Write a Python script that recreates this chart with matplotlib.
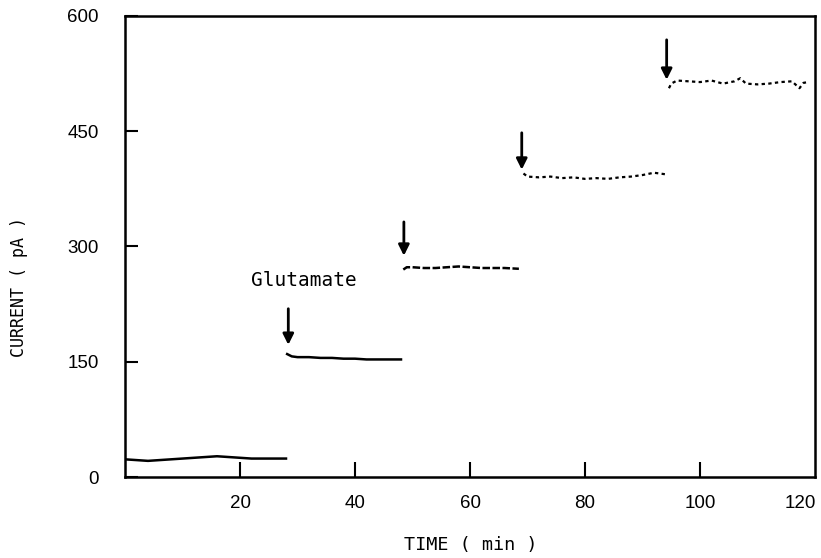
import numpy as np
import matplotlib
matplotlib.use("Agg")
import matplotlib.pyplot as plt

# current trace, one piece per glutamate addition (min, pA)
t_base = [0, 2, 4, 6, 8, 10, 12, 14, 16, 18, 20, 22, 24, 26, 28]
i_base = [23, 22, 21, 22, 23, 24, 25, 26, 27, 26, 25, 24, 24, 24, 24]

t_step1 = [28.2, 29, 30, 32, 34, 36, 38, 40, 42, 44, 46, 48]
i_step1 = [160, 157, 156, 156, 155, 155, 154, 154, 153, 153, 153, 153]

t_step2 = [48.4, 49, 50, 52, 54, 56, 58, 60, 62, 64, 66, 68.5]
i_step2 = [270, 273, 273, 272, 272, 273, 274, 273, 272, 272, 272, 271]

t_step3 = [69.3, 70, 72, 74, 76, 78, 80, 82, 84, 86, 88, 90, 92, 94]
i_step3 = [395, 391, 390, 391, 389, 390, 388, 389, 388, 390, 391, 393, 396, 394]

t_step4 = [94.6, 95, 96, 98, 100, 102, 104, 106, 107, 108, 110, 112, 114, 116, 117.3, 118, 118.8]
i_step4 = [506, 512, 516, 515, 514, 516, 512, 515, 519, 512, 511, 512, 514, 515, 506, 513, 514]

# arrows marking each addition: x, tail, head
arrow_t = [28.4, 48.5, 69.0, 94.2]
arrow_top = [219, 332, 448, 569]
arrow_tip = [172, 288, 400, 517]

xticks = [20, 40, 60, 80, 100]
yticks = [0, 150, 300, 450, 600]

mono = "DejaVu Sans Mono"
sans = "Liberation Sans"

fig = plt.figure(figsize=(8.21, 5.58), dpi=100)
ax = fig.add_axes([125 / 821, 81 / 558, 690 / 821, 461 / 558])

ax.plot(t_base, i_base, color="black", lw=1.8)
ax.plot(t_step1, i_step1, color="black", lw=1.8)
ax.plot(t_step2, i_step2, color="black", lw=1.8, ls=(0, (3, 1)))
ax.plot(t_step3, i_step3, color="black", lw=1.6, ls=(0, (1.5, 1.5)))
ax.plot(t_step4, i_step4, color="black", lw=1.6, ls=(0, (1.5, 1.5)))

for x, y0, y1 in zip(arrow_t, arrow_top, arrow_tip):
    ax.annotate("", xy=(x, y1), xytext=(x, y0),
                arrowprops=dict(arrowstyle="-|>", color="black", lw=2,
                                mutation_scale=16, shrinkA=0, shrinkB=0))

ax.text(21.9, 256, "Glutamate", fontsize=14, family=mono, va="center", ha="left")

ax.set_xlim(0, 120)
ax.set_ylim(0, 600)
ax.set_xticks(xticks)
ax.set_yticks(yticks)
ax.tick_params(axis="x", direction="in", length=11, width=1.5, pad=13, labelsize=13.5)
ax.tick_params(axis="y", direction="in", length=9, width=1.5, pad=19, labelsize=13.5)
for lab in ax.get_xticklabels() + ax.get_yticklabels():
    lab.set_family(sans)
for s in ax.spines.values():
    s.set_linewidth(1.8)

# last x label sits flush with the right spine
ax.text(1.0 + 1 / 690, -0.039, "120", transform=ax.transAxes, fontsize=13.5,
        family=sans, ha="right", va="top")

ax.set_xlabel("TIME ( min )", fontsize=13.3, family=mono)
ax.xaxis.set_label_coords(0.501, -0.128)
ax.set_ylabel("CURRENT ( pA )", fontsize=12, family=mono)
ax.yaxis.set_label_coords(-0.141, 0.412)

fig.savefig("out.png", dpi=100)
